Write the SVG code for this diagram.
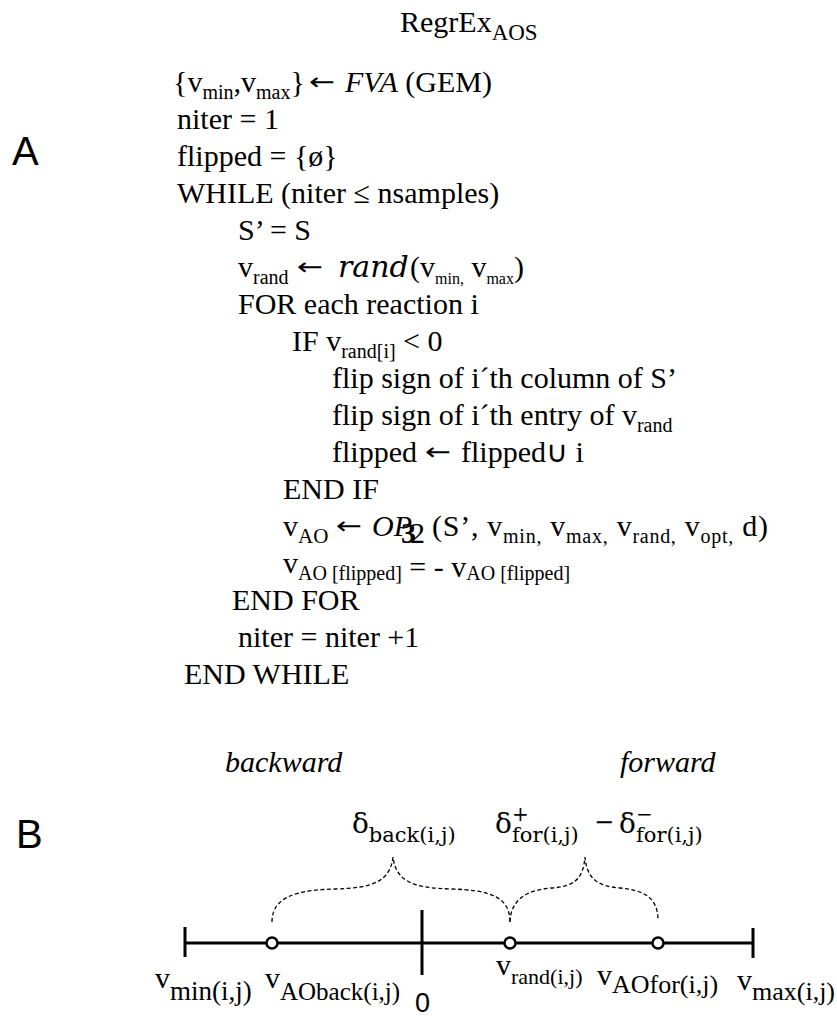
<svg xmlns="http://www.w3.org/2000/svg" width="837" height="1016" viewBox="0 0 837 1016">
  <style>
    .t { font-family: "Liberation Serif", "Times New Roman", serif; font-size: 30px; fill: #000; }
    .sub { font-size: 20px; }
    .sub16 { font-size: 16px; }
    .it { font-style: italic; }
    .m { font-family: "DejaVu Serif", serif; font-style: italic; }
    .arr { font-family: "DejaVu Sans", sans-serif; font-size: 24px; fill: #000; }
    .lbl { font-family: "Liberation Sans", Arial, sans-serif; fill: #000; }
    .cm { font-family: "DejaVu Serif", serif; fill: #000; }
    .axis { stroke: #000; stroke-width: 3; fill: none; }
    .pt { stroke: #000; stroke-width: 2.5; fill: #fff; }
    .brace { stroke: #000; stroke-width: 1.3; fill: none; stroke-dasharray: 4 2.5; }
  </style>
  <rect width="837" height="1016" fill="#fff"/>

  <!-- panel letters -->
  <text id="label-A" class="lbl" x="12" y="165" font-size="40">A</text>
  <text id="label-B" class="lbl" x="16" y="848" font-size="40">B</text>

  <!-- algorithm listing -->
  <g id="algorithm">
    <text class="t" x="400" y="32" font-size="34">RegrEx<tspan font-size="23" dy="8">AOS</tspan></text>

    <!-- flux variability bounds -->
    <text class="t" x="173" y="92">{v<tspan class="sub" dy="7">min</tspan><tspan dy="-7">,v</tspan><tspan class="sub" dy="7">max</tspan><tspan dy="-7">}</tspan></text>
    <text class="arr" transform="translate(309,90) scale(1.3,1)">←</text>
    <text class="t" x="345" y="92"><tspan class="it">FVA</tspan> (GEM)</text>

    <text class="t" x="177" y="129">niter = 1</text>
    <text class="t" x="177" y="166">flipped = {ø}</text>
    <text class="t" x="177" y="203">WHILE (niter ≤ nsamples)</text>
    <text class="t" x="238" y="240">S’ = S</text>

    <!-- random sample line -->
    <text class="t" x="238" y="277">v<tspan class="sub" dy="7">rand</tspan></text>
    <text class="arr" transform="translate(297,275) scale(1.3,1)">←</text>
    <text class="t m" x="338" y="277">rand</text>
    <text class="t" x="410" y="277">(v<tspan class="sub16" dy="7">min,</tspan><tspan dy="-7"> v</tspan><tspan class="sub16" dy="7">max</tspan><tspan dy="-7">)</tspan></text>

    <text class="t" x="238" y="314">FOR each reaction i</text>
    <text class="t" x="292" y="351">IF v<tspan class="sub" dy="7">rand[i]</tspan><tspan dy="-7"> &lt; 0</tspan></text>
    <text class="t" x="332" y="388">flip sign of i´th column of  S’</text>
    <text class="t" x="332" y="425">flip sign of i´th entry of v<tspan class="sub" dy="7">rand</tspan></text>
    <text class="t" x="332" y="462">flipped</text>
    <text class="arr" transform="translate(425,460) scale(1.3,1)">←</text>
    <text class="t" x="461" y="462">flipped∪ i</text>
    <text class="t" x="283" y="499">END IF</text>

    <!-- optimisation call -->
    <text class="t" x="283" y="536">v<tspan font-size="21" dy="7">AO</tspan></text>
    <text class="arr" transform="translate(336,534) scale(1.3,1)">←</text>
    <text class="t it" x="372" y="536" font-size="26">OP</text>
    <text class="t" x="401" y="543" font-size="19" font-weight="bold">3</text>
    <text class="t" x="410" y="543" font-size="21">2</text>
    <text class="t" x="432" y="536" textLength="336" lengthAdjust="spacing">(S’, v<tspan class="sub" dy="7">min,</tspan><tspan dy="-7"> v</tspan><tspan class="sub" dy="7">max,</tspan><tspan dy="-7"> v</tspan><tspan class="sub" dy="7">rand,</tspan><tspan dy="-7"> v</tspan><tspan class="sub" dy="7">opt,</tspan><tspan dy="-7"> d)</tspan></text>

    <text class="t" x="283" y="573">v<tspan class="sub" dy="7">AO [flipped]</tspan><tspan dy="-3"> = - v</tspan><tspan class="sub" dy="3">AO [flipped]</tspan></text>
    <text class="t" x="232" y="610">END FOR</text>
    <text class="t" x="238" y="647">niter = niter +1</text>
    <text class="t" x="184" y="684">END WHILE</text>
  </g>

  <!-- direction captions -->
  <g id="captions">
    <text class="t it" x="225" y="772" font-size="28">backward</text>
    <text class="t it" x="620" y="772" font-size="28">forward</text>
  </g>

  <!-- interval widths -->
  <g id="deltas">
    <text class="cm" x="352" y="833" font-size="28">δ<tspan font-size="21" dy="9">back(i,j)</tspan></text>
    <text class="cm" x="495" y="833" font-size="28">δ</text>
    <text class="cm" x="512" y="821" font-size="20">+</text>
    <text class="cm" x="512" y="842" font-size="21">for(i,j)</text>
    <text class="cm" x="594" y="830" font-size="24">−</text>
    <text class="cm" x="619" y="833" font-size="28">δ</text>
    <text class="cm" x="636" y="821" font-size="20">−</text>
    <text class="cm" x="636" y="842" font-size="21">for(i,j)</text>
  </g>

  <!-- flux axis with markers and braces -->
  <g id="connectors">
    <path class="brace" d="M272,922 C272,896 298,890 335,889 C372,888 390,882 393,857 C396,882 414,888 451,889 C488,890 510,896 510,922"/>
    <path class="brace" d="M510,922 C511,898 528,890 552,888 C576,886 583,878 585,857 C587,878 596,886 620,888 C644,890 658,898 658,920"/>
    <line class="axis" x1="185" y1="943" x2="753" y2="943"/>
    <line class="axis" x1="185" y1="927" x2="185" y2="957"/>
    <line class="axis" x1="753" y1="928" x2="753" y2="958"/>
    <line class="axis" x1="422" y1="910" x2="422" y2="975"/>
  </g>

  <g id="points">
    <circle class="pt" cx="272" cy="943" r="5.5"/>
    <circle class="pt" cx="510" cy="943" r="5.5"/>
    <circle class="pt" cx="658" cy="943" r="5.5"/>
  </g>

  <g id="axis-labels">
    <text class="t" x="155" y="988" font-size="36">v<tspan font-size="27" dy="12">min(i,j)</tspan></text>
    <text class="t" x="265" y="988" font-size="36">v<tspan font-size="25" dy="12">AOback(i,j)</tspan></text>
    <text class="lbl" x="415" y="1012" font-size="27">0</text>
    <text class="t" x="496" y="975" font-size="28">v<tspan font-size="22" dy="9">rand(i,j)</tspan></text>
    <text class="t" x="597" y="985" font-size="36">v<tspan font-size="26" dy="8">AOfor(i,j)</tspan></text>
    <text class="t" x="737" y="990" font-size="36">v<tspan font-size="26" dy="10">max(i,j)</tspan></text>
  </g>
</svg>
